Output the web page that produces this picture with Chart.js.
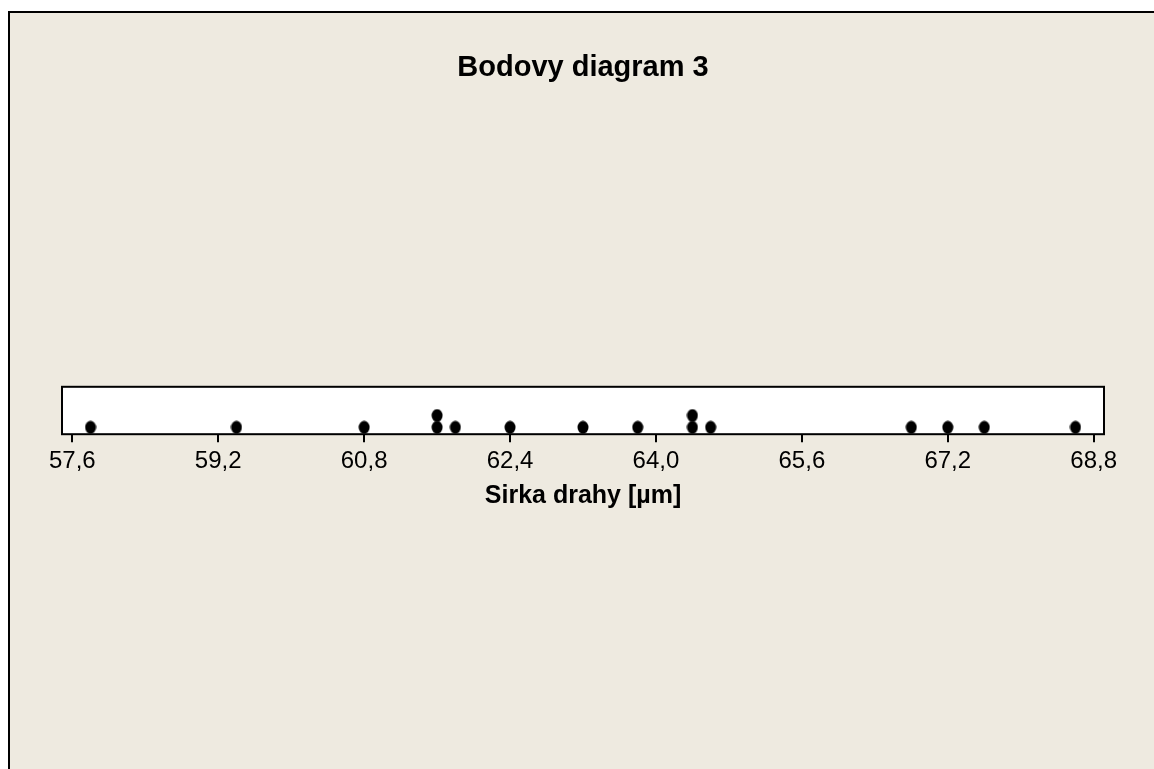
<!DOCTYPE html>
<html>
<head>
<meta charset="utf-8">
<title>Bodovy diagram 3</title>
<script src="https://cdn.jsdelivr.net/npm/chart.js@4.4.1/dist/chart.umd.min.js"></script>
<style>
  html, body { margin: 0; padding: 0; background: #fff; }
  #wrap { width: 1154px; height: 769px; }
</style>
</head>
<body>
<div id="wrap"><canvas id="dotplot" width="1154" height="769"></canvas></div>
<script>
// measured track widths
const sirka = [57.8, 59.4, 60.8, 61.6, 61.6, 61.8, 62.4, 63.2, 63.8, 64.4, 64.4, 64.6, 66.8, 67.2, 67.6, 68.6];
const tickVals = [57.6, 59.2, 60.8, 62.4, 64.0, 65.6, 67.2, 68.8];
const titleText = 'Bodovy diagram 3';
const xTitle = 'Sirka drahy [µm]';

// stack equal values on top of each other, like a dotplot
const seen = {};
const points = sirka.map(v => {
    seen[v] = (seen[v] || 0) + 1;
    return { x: v, y: seen[v] };
});

// slightly tall dot, same as the original marker
function makeDot() {
    const c = document.createElement('canvas');
    c.width = 12; c.height = 14;
    const g = c.getContext('2d');
    g.fillStyle = '#000';
    g.beginPath();
    g.ellipse(6, 7, 5.5, 6.5, 0, 0, Math.PI * 2);
    g.fill();
    return c;
}

const BEIGE = '#EEEAE0';

const framePlugin = {
    id: 'frame',
    beforeDraw(chart) {
        const ctx = chart.ctx;
        const a = chart.chartArea;
        ctx.save();
        ctx.fillStyle = '#fff';
        ctx.fillRect(0, 0, chart.width, chart.height);
        ctx.fillStyle = BEIGE;
        ctx.fillRect(9, 12, chart.width - 9, chart.height - 12);
        ctx.strokeStyle = '#000';
        ctx.lineWidth = 2;
        ctx.beginPath();
        ctx.moveTo(9, chart.height);
        ctx.lineTo(9, 12);
        ctx.lineTo(chart.width, 12);
        ctx.stroke();
        ctx.fillStyle = '#fff';
        ctx.fillRect(a.left, a.top, a.right - a.left, a.bottom - a.top);
        ctx.restore();
    },
    afterDatasetsDraw(chart) {
        const ctx = chart.ctx;
        const a = chart.chartArea;
        ctx.save();
        ctx.strokeStyle = '#000';
        ctx.lineWidth = 2;
        ctx.strokeRect(a.left, a.top, a.right - a.left, a.bottom - a.top);
        ctx.restore();
    }
};

const FONT = 'Arial, "Liberation Sans", sans-serif';

new Chart(document.getElementById('dotplot'), {
    type: 'scatter',
    data: {
        datasets: [{
            data: points,
            pointStyle: makeDot(),
            pointRadius: 6,
            pointHoverRadius: 6
        }]
    },
    options: {
        responsive: false,
        animation: false,
        events: [],
        layout: { padding: { left: 62, right: 50, top: 0, bottom: 258 } },
        plugins: {
            legend: { display: false },
            tooltip: { enabled: false },
            title: {
                display: true,
                text: titleText,
                color: '#000',
                font: { family: FONT, size: 29, weight: 'bold' },
                padding: { top: 51, bottom: 301 }
            }
        },
        scales: {
            x: {
                type: 'linear',
                min: 57.487,
                max: 68.913,
                afterBuildTicks(scale) {
                    scale.ticks = tickVals.map(v => ({ value: v }));
                },
                border: { display: false },
                grid: {
                    drawOnChartArea: false,
                    drawTicks: true,
                    tickLength: 8,
                    color: '#000',
                    lineWidth: 2
                },
                ticks: {
                    color: '#000',
                    padding: 5,
                    maxRotation: 0,
                    font: { family: FONT, size: 24 },
                    callback: v => v.toFixed(1).replace('.', ',')
                },
                title: {
                    display: true,
                    text: xTitle,
                    color: '#000',
                    font: { family: FONT, size: 25, weight: 'bold' },
                    padding: { top: 0, bottom: 0 }
                }
            },
            y: {
                display: false,
                min: 0.4167,
                max: 4.44
            }
        }
    },
    plugins: [framePlugin]
});
</script>
</body>
</html>
